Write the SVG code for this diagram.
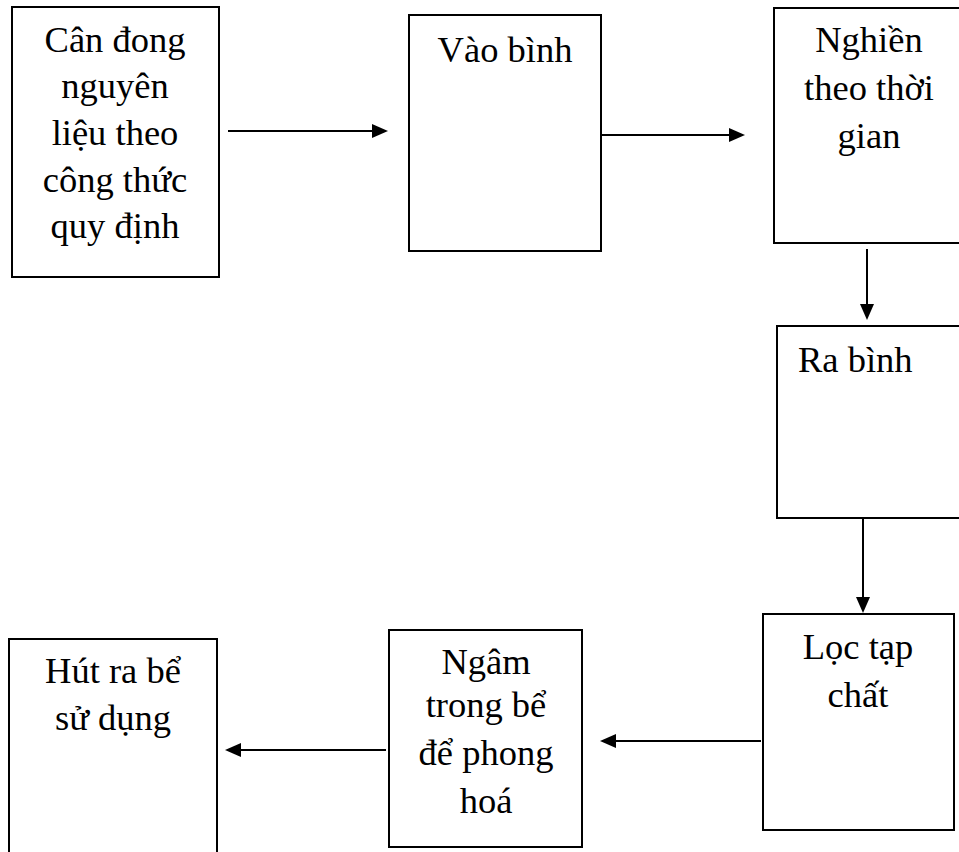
<svg xmlns="http://www.w3.org/2000/svg" width="959" height="852" viewBox="0 0 959 852">
  <style>
    .box { fill: #ffffff; stroke: #000000; stroke-width: 2; }
    .lbl { font-family: "Liberation Serif", "Times New Roman", serif; font-size: 36.5px; fill: #000000; }
    .mid { text-anchor: middle; }
    .edge { stroke: #000000; stroke-width: 2; fill: none; marker-end: url(#head); }
  </style>
  <defs>
    <marker id="head" viewBox="0 0 16 14" refX="8" refY="7" markerWidth="16" markerHeight="14" markerUnits="userSpaceOnUse" orient="auto">
      <path d="M0,0 L16,7 L0,14 Z" fill="#000000"/>
    </marker>
  </defs>

  <rect width="959" height="852" fill="#ffffff"/>

  <!-- process steps -->
  <g id="can-dong">
    <rect class="box" x="12" y="7" width="207" height="270"/>
    <text class="lbl mid" x="115" y="52">Cân đong</text>
    <text class="lbl mid" x="115" y="98">nguyên</text>
    <text class="lbl mid" x="115" y="145">liệu theo</text>
    <text class="lbl mid" x="115" y="192">công thức</text>
    <text class="lbl mid" x="115" y="238">quy định</text>
  </g>

  <g id="vao-binh">
    <rect class="box" x="409" y="15" width="192" height="236"/>
    <text class="lbl mid" x="505" y="62">Vào bình</text>
  </g>

  <g id="nghien">
    <rect class="box" x="774" y="8" width="195" height="235"/>
    <text class="lbl mid" x="869" y="52">Nghiền</text>
    <text class="lbl mid" x="869" y="100">theo thời</text>
    <text class="lbl mid" x="869" y="148">gian</text>
  </g>

  <g id="ra-binh">
    <rect class="box" x="777" y="326" width="195" height="192"/>
    <text class="lbl" x="798" y="372">Ra bình</text>
  </g>

  <g id="loc-tap-chat">
    <rect class="box" x="763" y="614" width="191" height="216"/>
    <text class="lbl mid" x="858" y="659">Lọc tạp</text>
    <text class="lbl mid" x="858" y="707">chất</text>
  </g>

  <g id="ngam">
    <rect class="box" x="389" y="630" width="193" height="217"/>
    <text class="lbl mid" x="486" y="674">Ngâm</text>
    <text class="lbl mid" x="486" y="717">trong bể</text>
    <text class="lbl mid" x="486" y="765">để phong</text>
    <text class="lbl mid" x="486" y="813">hoá</text>
  </g>

  <g id="hut-ra-be">
    <rect class="box" x="9" y="639" width="208" height="225"/>
    <text class="lbl mid" x="113" y="683">Hút ra bể</text>
    <text class="lbl mid" x="113" y="730">sử dụng</text>
  </g>

  <!-- connectors -->
  <g id="connectors">
    <line class="edge" x1="228" y1="131" x2="380" y2="131"/>
    <line class="edge" x1="602" y1="135" x2="737" y2="135"/>
    <line class="edge" x1="867" y1="249" x2="867" y2="312"/>
    <line class="edge" x1="863" y1="519" x2="863" y2="605"/>
    <line class="edge" x1="761" y1="741" x2="608" y2="741"/>
    <line class="edge" x1="386" y1="750" x2="233" y2="750"/>
  </g>
</svg>
